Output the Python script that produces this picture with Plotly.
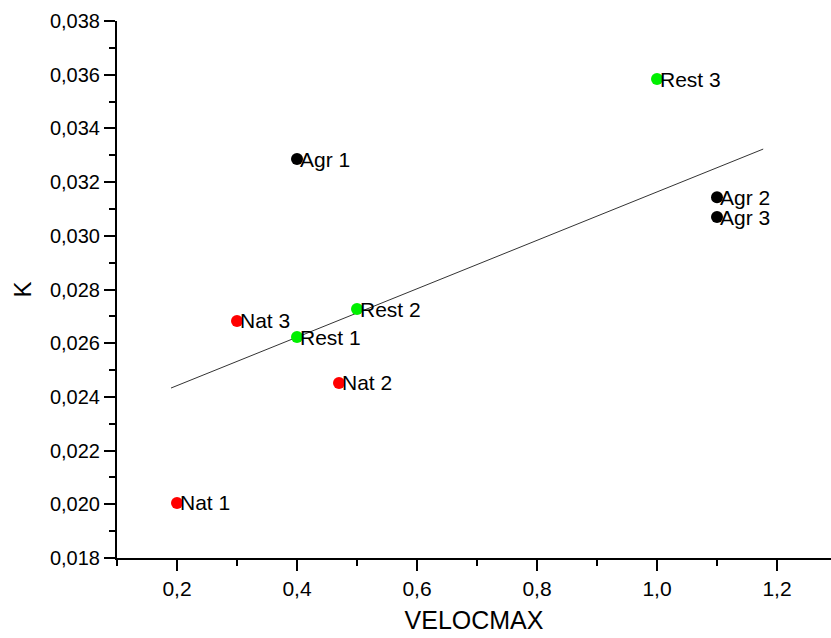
import plotly.graph_objects as go

labels = ["Nat 1", "Nat 2", "Nat 3", "Rest 1", "Rest 2", "Rest 3", "Agr 1", "Agr 2", "Agr 3"]
velocmax = [0.2, 0.47, 0.3, 0.4, 0.5, 1.0, 0.4, 1.1, 1.1]
k_values = [0.02005, 0.02452, 0.02683, 0.02623, 0.02727, 0.03584, 0.03286, 0.03144, 0.03070]
colors = ["#FF0000", "#FF0000", "#FF0000", "#00F000", "#00F000", "#00F000", "#000000", "#000000", "#000000"]

fit_x = [0.19, 1.177]
fit_y = [0.02433, 0.03323]

FONT = "Liberation Sans, Arial, sans-serif"

fig = go.Figure()
fig.add_trace(go.Scatter(x=fit_x, y=fit_y, mode="lines",
                         line=dict(color="#333333", width=1), hoverinfo="skip",
                         showlegend=False))
fig.add_trace(go.Scatter(x=velocmax, y=k_values, mode="markers",
                         marker=dict(color=colors, size=12), showlegend=False))

for lab, xv, yv in zip(labels, velocmax, k_values):
    fig.add_annotation(x=xv, y=yv, text=lab, showarrow=False,
                       xanchor="left", yanchor="middle", xshift=1,
                       font=dict(family=FONT, size=21, color="#000000"))

fig.update_layout(
    width=831, height=638,
    margin=dict(l=117, r=0, t=21, b=80),
    paper_bgcolor="white", plot_bgcolor="white",
    separators=",.",
    font=dict(family=FONT, color="#000000"),
)
fig.update_xaxes(
    range=[0.1, 1.29], showgrid=False, zeroline=False,
    showline=True, linecolor="black", linewidth=2,
    ticks="outside", ticklen=11, tickwidth=2, tickcolor="black",
    tickvals=[0.2, 0.4, 0.6, 0.8, 1.0, 1.2], tickformat=".1f",
    tickfont=dict(family=FONT, size=21),
    minor=dict(ticks="outside", ticklen=6, tickwidth=2, tickcolor="black", dtick=0.1, tick0=0.1, showgrid=False),
    title=dict(text="VELOCMAX", font=dict(family=FONT, size=25), standoff=12),
)
fig.update_yaxes(
    range=[0.018, 0.038], showgrid=False, zeroline=False,
    showline=True, linecolor="black", linewidth=2,
    ticks="outside", ticklen=11, tickwidth=2, tickcolor="black",
    dtick=0.002, tick0=0.018, tickformat=".3f",
    tickfont=dict(family=FONT, size=20),
    minor=dict(ticks="outside", ticklen=6, tickwidth=2, tickcolor="black", dtick=0.001, tick0=0.018, showgrid=False),
    title=dict(text="K", font=dict(family=FONT, size=24), standoff=12),
)

fig.write_html("out.html")
